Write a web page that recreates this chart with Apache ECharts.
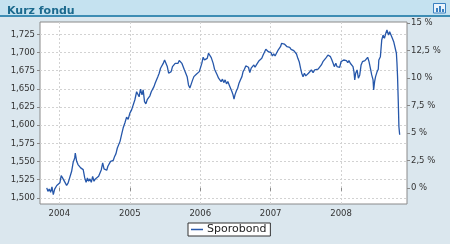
<!DOCTYPE html>
<html><head><meta charset="utf-8">
<script src="https://cdn.jsdelivr.net/npm/echarts@6/dist/echarts.min.js"></script>
<style>html,body{margin:0;padding:0;background:#dbe7ee}#c{width:450px;height:244px}</style>
</head><body><div id="c"></div>
<script>
const chartTitle = 'Kurz fondu';
const seriesName = 'Sporobond';
const dates = [
'2003-10-28','2003-11-03','2003-11-10','2003-11-17','2003-11-24','2003-12-01','2003-12-08','2003-12-19','2003-12-27',
'2004-01-04','2004-01-11','2004-01-18','2004-01-25','2004-02-01','2004-02-08','2004-02-16','2004-02-25','2004-03-05',
'2004-03-13','2004-03-21','2004-03-24','2004-03-31','2004-04-07','2004-04-14','2004-04-21','2004-04-28','2004-05-04',
'2004-05-12','2004-05-19','2004-05-26','2004-06-01','2004-06-08','2004-06-15','2004-06-22','2004-06-29','2004-07-06',
'2004-07-13','2004-07-23','2004-07-30','2004-08-06','2004-08-13','2004-08-20','2004-08-27','2004-09-03','2004-09-09',
'2004-09-16','2004-09-23','2004-09-30','2004-10-07','2004-10-14','2004-10-21','2004-10-28','2004-11-04','2004-11-11',
'2004-11-19','2004-11-27','2004-12-06','2004-12-15','2004-12-23','2005-01-01','2005-01-10','2005-01-18','2005-01-27',
'2005-02-05','2005-02-13','2005-02-18','2005-02-25','2005-03-05','2005-03-11','2005-03-18','2005-03-25','2005-04-01',
'2005-04-08','2005-04-15','2005-04-22','2005-04-29','2005-05-06','2005-05-12','2005-05-20','2005-05-26','2005-06-02',
'2005-06-09','2005-06-16','2005-06-23','2005-06-30','2005-07-07','2005-07-14','2005-07-21','2005-07-28','2005-08-03',
'2005-08-10','2005-08-17','2005-08-24','2005-08-31','2005-09-07','2005-09-14','2005-09-21','2005-09-28','2005-10-04',
'2005-10-11','2005-10-18','2005-10-25','2005-11-01','2005-11-08','2005-11-15','2005-11-22','2005-11-29','2005-12-06',
'2005-12-13','2005-12-20','2005-12-27','2006-01-03','2006-01-09','2006-01-16','2006-01-23','2006-01-30','2006-02-06',
'2006-02-13','2006-02-20','2006-02-27','2006-03-09','2006-03-16','2006-03-23','2006-03-30','2006-04-06','2006-04-12',
'2006-04-19','2006-04-26','2006-05-03','2006-05-10','2006-05-17','2006-05-24','2006-05-31','2006-06-07','2006-06-14',
'2006-06-20','2006-06-25','2006-06-30','2006-07-08','2006-07-14','2006-07-21','2006-07-28','2006-08-05','2006-08-11',
'2006-08-18','2006-08-25','2006-09-01','2006-09-08','2006-09-15','2006-09-22','2006-09-29','2006-10-06','2006-10-12',
'2006-10-19','2006-10-26','2006-11-02','2006-11-09','2006-11-16','2006-11-23','2006-11-30','2006-12-07','2006-12-13',
'2006-12-20','2006-12-27','2007-01-03','2007-01-10','2007-01-17','2007-01-24','2007-01-31','2007-02-07','2007-02-13',
'2007-02-21','2007-02-27','2007-03-07','2007-03-13','2007-03-20','2007-03-27','2007-04-03','2007-04-10','2007-04-17',
'2007-04-24','2007-05-01','2007-05-08','2007-05-15','2007-05-22','2007-05-29','2007-06-05','2007-06-11','2007-06-18',
'2007-06-25','2007-07-02','2007-07-09','2007-07-16','2007-07-23','2007-07-31','2007-08-09','2007-08-17','2007-08-26',
'2007-09-04','2007-09-12','2007-09-21','2007-09-29','2007-10-09','2007-10-17','2007-10-25','2007-10-30','2007-11-07',
'2007-11-13','2007-11-20','2007-11-27','2007-12-05','2007-12-11','2007-12-18','2007-12-25','2008-01-01','2008-01-08',
'2008-01-15','2008-01-21','2008-01-29','2008-02-05','2008-02-11','2008-02-18','2008-02-25','2008-03-03','2008-03-08',
'2008-03-12','2008-03-17','2008-03-24','2008-03-31','2008-04-07','2008-04-14','2008-04-21','2008-04-28','2008-05-04',
'2008-05-12','2008-05-18','2008-05-25','2008-06-01','2008-06-08','2008-06-15','2008-06-18','2008-06-23','2008-06-28',
'2008-07-06','2008-07-12','2008-07-15','2008-07-23','2008-07-30','2008-08-06','2008-08-13','2008-08-20','2008-08-26',
'2008-09-03','2008-09-09','2008-09-16','2008-09-23','2008-09-30','2008-10-07','2008-10-14','2008-10-17','2008-10-20',
'2008-10-24','2008-10-27','2008-10-31'
];
const values = [
1513.7,1509,1512,1507.7,1515,1504.5,1512,1517,1517,
1520.6,1530.6,1527.4,1529.6,1520.6,1517,1520.6,1522.8,1536.5,
1548.8,1554.9,1561.7,1550.2,1545.7,1548,1541.2,1543.4,1538.8,
1527.4,1521.4,1527.4,1522.8,1526,1521.4,1529.6,1522.8,1526,
1524,1529.6,1532,1538.8,1548,1539.8,1541.2,1537.9,1543.4,
1541.2,1550.2,1552.5,1551.6,1557,1560.8,1568.6,1570.8,1577.7,
1587,1596,1603,1611,1608,1616.6,1621,1623.5,1635,
1646,1644,1639,1649.5,1641.7,1648.6,1632.5,1629.4,1635,
1637,1640.4,1646,1644,1653,1657.8,1660,1666.8,1671.5,
1678.4,1676,1685,1689.8,1689,1680.6,1671.5,1672,1673.7,
1680.6,1683,1685,1687.4,1685,1689,1689.8,1685,1683,
1676,1673.7,1666.8,1655.4,1651,1653,1662,1666.8,1669,
1670.5,1671.5,1673.7,1671.5,1685,1693.5,1689.8,1687.4,1692,
1699,1699,1693,1685,1677,1679.7,1669,1664.6,1663.3,
1660,1663.3,1658.6,1662.3,1656.8,1660,1655.4,1653,1646.3,
1641.7,1635.8,1641.7,1647.6,1650.9,1657.8,1662.3,1666.8,1673.7,
1677,1681.5,1682.9,1679.7,1672.3,1678.4,1680.6,1682.9,1679.7,
1682.9,1685.2,1688.8,1687.4,1692,1696.6,1699,1704.4,1702.5,
1701.1,1699,1699.8,1695.2,1698,1695.2,1699,1702.5,1704.4,
1708,1712.7,1710.3,1711.7,1709,1708,1705.8,1707.2,1704.4,
1705.8,1702.5,1703.5,1698,1692,1687.4,1678.4,1671.5,1666.8,
1671.5,1667.8,1669.2,1671.5,1673.7,1676,1672.3,1676,1673.7,
1677,1679.7,1682.9,1687.4,1689.7,1693.4,1696.6,1698,1694.3,
1690.7,1686,1680.6,1685.2,1680.6,1681.5,1679.7,1687.4,1688.8,
1689.7,1687.4,1688.8,1686,1688.8,1685.2,1682.9,1680.6,1673.7,
1662.3,1671.5,1676,1664.6,1669.2,1682.9,1687.4,1685.2,1688.8,
1690.7,1693.4,1687.4,1678.4,1669.2,1662.3,1648.6,1660,1666.8,
1673.7,1677,1689.7,1694.3,1717.2,1724,1719.5,1726.4,1731,
1724,1728.6,1726.4,1719.5,1714.9,1717.2,1699,1685.2,1666.8,
1630.3,1598.2,1586.8
];
const yearTicks = ['2004-01-01','2005-01-01','2006-01-01','2007-01-01','2008-01-01'];
const leftTicks = [1500,1525,1550,1575,1600,1625,1650,1675,1700,1725];
const rightTicks = [0,2.5,5,7.5,10,12.5,15];
const xMin = '2003-09-23', xMax = '2008-12-08';
const yMin = 1491.5, yMax = 1742;
const base = values[0];

const chart = echarts.init(document.getElementById('c'), null, {renderer:'canvas'});
const font = 'DejaVu Sans';
const toTime = s => Date.parse(s);
chart.setOption({
  backgroundColor: '#dbe7ee',
  animation: false,
  title: {
    text: chartTitle, left: 2, top: 1, z: 10,
    textStyle: {fontSize: 11, fontWeight: 'bold', fontFamily: font, color: '#1c6a8e'}
  },
  graphic: [
    {type:'rect', z:-1, shape:{x:0,y:0,width:450,height:15}, style:{fill:'#c5e2f0'}},
    {type:'rect', z:-1, shape:{x:0,y:15,width:450,height:2}, style:{fill:'#3e8db4'}},
    {type:'rect', shape:{x:433.5,y:3.5,width:12,height:9.5}, style:{fill:'#eaf3fb', stroke:'#3a80c0', lineWidth:1}},
    {type:'rect', shape:{x:436,y:8,width:2,height:4}, style:{fill:'#3a80c0'}},
    {type:'rect', shape:{x:439,y:6,width:2,height:6}, style:{fill:'#3a80c0'}},
    {type:'rect', shape:{x:442,y:9,width:2,height:3}, style:{fill:'#3a80c0'}}
  ],
  legend: {
    left: 188, top: 223, icon: 'rect', itemWidth: 12, itemHeight: 1.5, itemGap: 4,
    backgroundColor: '#fff', borderColor: '#333', borderWidth: 1, padding: [1, 4, 1, 3],
    textStyle: {fontSize: 11, fontFamily: font, color: '#222', padding: [0,0,0,-1]}
  },
  grid: {left: 40, right: 43, top: 22, bottom: 40, show: true, backgroundColor: '#fff', borderColor: '#8a8a8a', borderWidth: 1},
  xAxis: {
    type: 'value', min: toTime(xMin), max: toTime(xMax),
    axisLine: {show: false},
    axisTick: {show: true, length: 3, customValues: yearTicks.map(toTime), lineStyle: {color: '#888'}},
    axisLabel: {customValues: yearTicks.map(toTime), formatter: v => String(new Date(v).getUTCFullYear()), color: '#333', fontSize: 8.5, fontFamily: font, margin: 5},
    splitLine: {show: true, lineStyle: {color: '#d2d2d2', type: [2, 2]}}
  },
  yAxis: [
    {
      type: 'value', position: 'left', min: yMin, max: yMax,
      axisLine: {show: false},
      axisTick: {show: true, length: 3, customValues: leftTicks, lineStyle: {color: '#888'}},
      axisLabel: {customValues: leftTicks, formatter: v => v.toLocaleString('en-US'), color: '#333', fontSize: 8.5, fontFamily: font, margin: 5},
      splitLine: {show: true, lineStyle: {color: '#d2d2d2', type: [2, 2]}}
    },
    {
      type: 'value', position: 'right', min: (yMin / base - 1) * 100, max: (yMax / base - 1) * 100,
      axisLine: {show: false},
      axisTick: {show: true, length: 3, customValues: rightTicks, lineStyle: {color: '#888'}},
      axisLabel: {customValues: rightTicks, formatter: v => String(v).replace('.', ',') + ' %', color: '#333', fontSize: 8.5, fontFamily: font, margin: 4},
      splitLine: {show: false}
    }
  ],
  series: [{
    name: seriesName, type: 'line', yAxisIndex: 0, showSymbol: false, symbol: 'none',
    lineStyle: {width: 1.3, color: '#2657aa'}, itemStyle: {color: '#2657aa'},
    data: dates.map((d, i) => [toTime(d), values[i]])
  }]
});
</script></body></html>
